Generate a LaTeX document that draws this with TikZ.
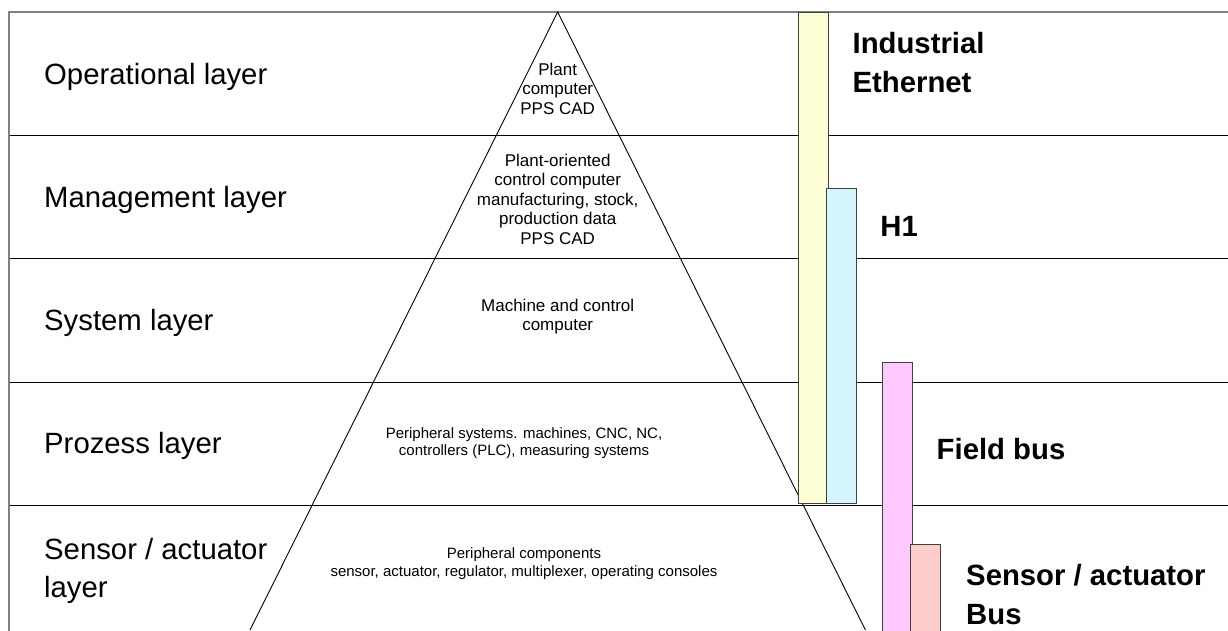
\documentclass[tikz,border=0pt]{standalone}
\usepackage{fontspec}
\setmainfont{Liberation Sans}

\definecolor{ethyellow}{RGB}{255,255,213}
\definecolor{hblue}{RGB}{213,245,255}
\definecolor{fieldpink}{RGB}{255,200,255}
\definecolor{asred}{RGB}{255,204,204}

\tikzset{
  layer/.style={anchor=base west, inner sep=0pt, align=left,
    font=\fontsize{29.3}{38}\selectfont},
  busname/.style={anchor=base west, inner sep=0pt, align=left,
    font=\bfseries\fontsize{29.3}{39}\selectfont},
  task/.style={anchor=base, inner sep=0pt, align=center,
    font=\fontsize{17}{19.5}\selectfont},
  smalltask/.style={task, font=\fontsize{15}{17.2}\selectfont},
  bar/.style={draw=black!75, line width=0.8pt},
}

\begin{document}
\begin{tikzpicture}[x=1pt,y=-1pt]
    \useasboundingbox (0,0) rectangle (1228,630);
    \clip (0,0) rectangle (1228,630);

    % Layer borders
    \foreach \y in {135,258,382,505}
        \draw[line width=1pt] (9,\y) -- (1228,\y);

    % Frame
    \draw[gray, line width=1.3pt] (9,640) -- (9,12) -- (1228,12);

    % Pyramid
    \coordinate (apex) at (557.7,12);
    \coordinate (baseL) at (250,630);
    \coordinate (baseR) at (865.4,630);
    \draw[line width=0.9pt] (baseL) -- (apex) -- (baseR);

    % Bus bars
    \filldraw[bar, fill=ethyellow] (798,12) rectangle (828,503);
    \filldraw[bar, fill=hblue] (826.5,188.5) rectangle (856.5,503);
    \filldraw[bar, fill=fieldpink] (882.5,362) rectangle (912.5,640);
    \filldraw[bar, fill=asred] (910.5,544.5) rectangle (940.5,640);

    % Layer names (multi-line ones sit on their last baseline)
    \node[layer] (operational) at (44,84) {Operational layer};
    \node[layer] (management) at (44,207) {Management layer};
    \node[layer] (system) at (44,330.5) {System layer};
    \node[layer] (process) at (44,453.5) {Prozess layer};
    \node[layer] (sensor) at (44,597) {Sensor / actuator\\layer};

    % Tasks inside the pyramid
    \node[task] (opTask) at (557.7,114) {Plant\\computer\\PPS CAD};
    \node[task] (mgTask) at (557.7,244) {Plant-oriented\\control computer\\manufacturing, stock,\\production data\\PPS CAD};
    \node[task] (sysTask) at (557.7,330.5) {Machine and control\\computer};
    \node[smalltask] (procTask) at (524,455.5) {Peripheral systems. machines, CNC, NC,\\controllers (PLC), measuring systems};
    \node[smalltask] (senTask) at (524,576) {Peripheral components\\sensor, actuator, regulator, multiplexer, operating consoles};

    % Bus names
    \node[busname] (ethernet) at (852.4,92) {Industrial\\Ethernet};
    \node[busname] (hOne) at (880.2,236) {H1};
    \node[busname] (fieldbus) at (936.5,459) {Field bus};
    \node[busname] (asBus) at (966,624) {Sensor / actuator\\Bus};

\end{tikzpicture}
\end{document}
